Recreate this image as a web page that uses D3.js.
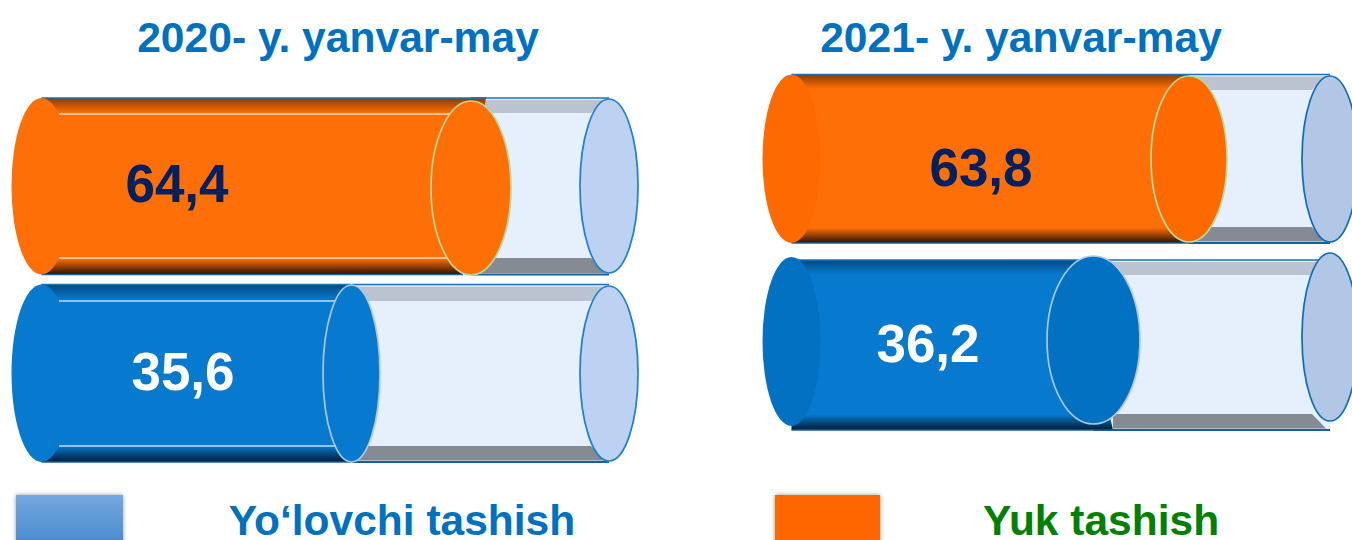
<!DOCTYPE html>
<html><head><meta charset="utf-8">
<script src="https://cdn.jsdelivr.net/npm/d3@7"></script>
<style>html,body{margin:0;padding:0;background:#fff;overflow:hidden}svg{display:block}text{font-family:"Liberation Sans",Arial,sans-serif;font-weight:bold}</style>
</head><body><svg id="c" width="1352" height="540"></svg>
<script>
const years = ["2020- y. yanvar-may", "2021- y. yanvar-may"];
const seriesNames = ["Yuk tashish", "Yo‘lovchi tashish"];
const freight = [64.4, 63.8];
const passenger = [35.6, 36.2];
const colors = {
  freight:{body:"#ff6f08", end2:"#ff6a00", dt:"#8a3c00", db:"#2a1000", stroke:"#b4dc98", text:"#002060"},
  passenger:{body:"#0779ce", end2:"#0271c2", dt:"#04487f", db:"#001a33", stroke:"#a9c9ec", text:"#ffffff"}
};
const fmt = v => String(v).replace(".", ",");

const panels = [
 {title:[338,52], leftCx:41.5, leftRx:30, capCx:609, capRx:29, capFill:"#bdd2f2", capStroke:"#1a7fcf", highlights:true, endKey:"body",
  x:d3.scaleLinear().domain([0,35.6,64.4,100]).range([41.5,351.5,471,609]),
  rows:[
   {k:"freight", top:98, bot:274.5, lq:[101,275], rx:40, cap:[99,273], label:[177,202], band:[113,258], hl:[114,258], hx:[59,452], topEnd:486, botEnd:463},
   {k:"passenger", top:284.5, bot:462, lq:[285,462], rx:28.5, cap:[286,461], label:[183,389.5], band:[301,446], hl:[301,446], hx:[59,335], topEnd:351, botEnd:351}
  ]},
 {title:[1021,52], leftCx:791.5, leftRx:29, capCx:1330, capRx:28, capFill:"#b2c6e5", capStroke:"#0b6dbb", highlights:false, endKey:"end2",
  x:d3.scaleLinear().domain([0,36.2,63.8,100]).range([791.5,1093.5,1189,1330]),
  rows:[
   {k:"freight", top:74.5, bot:243, lq:[76,242], rx:38, cap:[76,242], label:[981,185.5], band:[90,227], topEnd:1189, botEnd:1189},
   {k:"passenger", top:260, bot:430, left:[257,426], lq:[256,424], rx:46.5, cap:[253,421], label:[928,362], band:[275,414], topEnd:1093, botEnd:1113, squareBottom:true}
  ]}
];
const values = {freight, passenger};
const svg = d3.select("#c");
const defs = svg.append("defs");
Object.entries(colors).forEach(([k,c])=>{
  const g = defs.append("linearGradient").attr("id","g-"+k).attr("x1",0).attr("x2",0).attr("y1",0).attr("y2",1);
  [[0,c.dt],[.085,c.body],[.91,c.body],[1,c.db]].forEach(s=>g.append("stop").attr("offset",s[0]).attr("stop-color",s[1]));
});
const lg = defs.append("linearGradient").attr("id","g-leg").attr("x1",0).attr("x2",0).attr("y1",0).attr("y2",1);
lg.append("stop").attr("offset",0).attr("stop-color","#74a8df");
lg.append("stop").attr("offset",1).attr("stop-color","#4a8ace");
const sh = defs.append("filter").attr("id","sh").attr("x","-10%").attr("y","-10%").attr("width","120%").attr("height","125%");
sh.append("feDropShadow").attr("dx",0).attr("dy",0).attr("stdDeviation",2).attr("flood-color","#000").attr("flood-opacity",.4);

const ell = (g,cx,rx,y0,y1,fill,stroke,sw)=>g.append("ellipse").attr("cx",cx).attr("cy",(y0+y1)/2).attr("rx",rx).attr("ry",(y1-y0)/2)
  .attr("fill",fill).attr("stroke",stroke||"none").attr("stroke-width",sw||0);

panels.forEach((p,pi)=>{
  const g = svg.append("g");
  g.append("text").attr("x",p.title[0]).attr("y",p.title[1]).attr("text-anchor","middle").attr("font-size",42.6).attr("fill","#0070c0").text(years[pi]);
  p.rows.forEach(r=>{
    const c = colors[r.k], v = values[r.k][pi], lx = p.x(v), c0 = p.capCx;
    const mid = (r.top+r.bot)/2;
    // empty tube
    g.append("rect").attr("x",lx).attr("y",r.top).attr("width",c0-lx).attr("height",r.bot-r.top).attr("fill","#e6f0fd");
    g.append("path").attr("d",`M${lx},${r.top+2}L${c0-4},${r.top+2}L${c0-18},${r.band[0]}L${lx+r.rx*.5},${r.band[0]}Z`).attr("fill","#bcc3d0");
    const bl0 = r.squareBottom ? r.botEnd : lx, bl1 = r.squareBottom ? r.botEnd : lx+r.rx*.5;
    g.append("path").attr("d",`M${bl0},${r.bot-1.5}L${c0-4},${r.bot-1.5}L${c0-18},${r.band[1]}L${bl1},${r.band[1]}Z`).attr("fill","#858a93");
    g.append("line").attr("x1",lx).attr("x2",c0).attr("y1",r.top).attr("y2",r.top).attr("stroke","#1a72b8").attr("stroke-width",1.6);
    g.append("line").attr("x1",lx).attr("x2",c0).attr("y1",r.bot).attr("y2",r.bot).attr("stroke","#14609f").attr("stroke-width",1.8);
    ell(g,c0,p.capRx,r.cap[0],r.cap[1],p.capFill,p.capStroke,1.7);
    // filled part
    g.append("path").attr("d",`M${p.leftCx},${r.top}L${r.topEnd},${r.top}L${lx},${mid}L${r.botEnd},${r.bot}L${p.leftCx},${r.bot}Z`).attr("fill",`url(#g-${r.k})`);
    g.append("line").attr("x1",p.leftCx).attr("x2",r.topEnd).attr("y1",r.top).attr("y2",r.top).attr("stroke","#1a72b8").attr("stroke-width",1.4);
    g.append("line").attr("x1",p.leftCx).attr("x2",r.botEnd).attr("y1",r.bot).attr("y2",r.bot).attr("stroke","#14609f").attr("stroke-width",1.4);
    const ly = r.left || [r.top, r.bot];
    ell(g,p.leftCx,p.leftRx,ly[0],ly[1],c[p.endKey]);
    if(p.highlights) r.hl.forEach(y=>g.append("line").attr("x1",r.hx[0]).attr("x2",r.hx[1]).attr("y1",y).attr("y2",y).attr("stroke","#fff").attr("stroke-opacity",.75).attr("stroke-width",1.5));
    ell(g,lx,r.rx,r.lq[0],r.lq[1],c[p.endKey],c.stroke,1.7);
    g.append("text").attr("x",r.label[0]).attr("y",r.label[1]).attr("text-anchor","middle").attr("font-size",53).attr("fill",c.text).text(fmt(v));
  });
});
// legend
svg.append("rect").attr("x",16).attr("y",495).attr("width",107).attr("height",50).attr("fill","url(#g-leg)").attr("filter","url(#sh)");
svg.append("rect").attr("x",775).attr("y",495).attr("width",105).attr("height",50).attr("fill","#ff6600").attr("filter","url(#sh)");
svg.append("text").attr("x",402).attr("y",535).attr("text-anchor","middle").attr("font-size",42.5).attr("fill","#0070c0").text(seriesNames[1]);
svg.append("text").attr("x",1101).attr("y",535).attr("text-anchor","middle").attr("font-size",42.5).attr("fill","#008000").text(seriesNames[0]);
</script></body></html>
